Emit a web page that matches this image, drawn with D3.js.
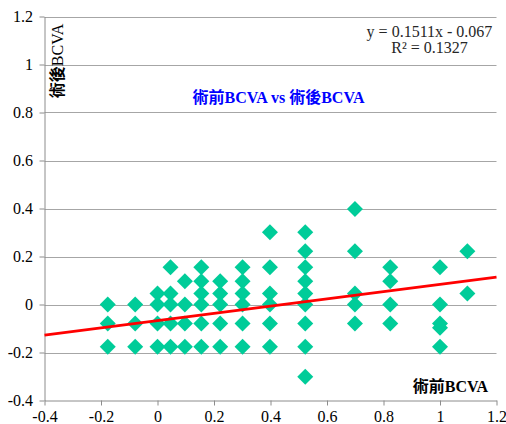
<!DOCTYPE html>
<html>
<head>
<meta charset="utf-8">
<script src="https://cdn.jsdelivr.net/npm/d3@7/dist/d3.min.js"></script>
<style>
  html, body { margin: 0; padding: 0; background: #fff; }
  svg { display: block; }
  text { font-family: "Liberation Serif", "Noto Sans CJK TC", serif; }
</style>
</head>
<body>
<svg id="chart" width="506" height="424"></svg>
<script>
// ---- data (logMAR values) ----
const preBCVA = [
  -0.176, -0.176, -0.176,
  -0.079, -0.079, -0.079,
  0, 0, 0, 0,
  0.046, 0.046, 0.046, 0.046, 0.046,
  0.097, 0.097, 0.097, 0.097,
  0.155, 0.155, 0.155, 0.155, 0.155, 0.155,
  0.222, 0.222, 0.222, 0.222, 0.222,
  0.301, 0.301, 0.301, 0.301, 0.301, 0.301,
  0.398, 0.398, 0.398, 0.398, 0.398, 0.398,
  0.523, 0.523, 0.523, 0.523, 0.523, 0.523, 0.523, 0.523, 0.523,
  0.699, 0.699, 0.699, 0.699, 0.699,
  0.824, 0.824, 0.824, 0.824,
  1.0, 1.0, 1.0, 1.0, 1.0,
  1.097, 1.097
];
const postBCVA = [
  0, -0.079, -0.176,
  0, -0.079, -0.176,
  0.046, 0, -0.079, -0.176,
  0.155, 0.046, 0, -0.079, -0.176,
  0.097, 0, -0.079, -0.176,
  0.155, 0.097, 0.046, 0, -0.079, -0.176,
  0.097, 0.046, 0, -0.079, -0.176,
  0.155, 0.097, 0.046, 0, -0.079, -0.176,
  0.301, 0.155, 0.046, 0, -0.079, -0.176,
  0.301, 0.222, 0.155, 0.097, 0.046, 0, -0.079, -0.176, -0.301,
  0.398, 0.222, 0.046, 0, -0.079,
  0.155, 0.097, 0, -0.079,
  0.155, 0, -0.079, -0.097, -0.176,
  0.222, 0.046
];
const xTicks = [-0.4, -0.2, 0, 0.2, 0.4, 0.6, 0.8, 1, 1.2];
const yTicks = [-0.4, -0.2, 0, 0.2, 0.4, 0.6, 0.8, 1, 1.2];
const trendSlope = 0.1511;
const trendIntercept = -0.067;
const equationText = "y = 0.1511x - 0.067";
const r2Text = "R² = 0.1327";
const chartTitle = "術前BCVA vs 術後BCVA";
const xTitle = "術前BCVA";
const yTitleCJK = "術後";
const yTitleLatin = "BCVA";

(function () {
// ---- layout ----
const svg = d3.select("#chart");
const pl = 44.5, pr = 496.5, pt = 16.5, pb = 400.5;
const x = d3.scaleLinear().domain([-0.4, 1.2]).range([pl, pr]);
const y = d3.scaleLinear().domain([-0.4, 1.2]).range([pb, pt]);
const fmt = d => (Math.abs(d) < 1e-9 ? "0" : String(+d.toFixed(1)));

// gridlines
svg.append("g").selectAll("line").data(yTicks.slice(1)).join("line")
  .attr("x1", pl).attr("x2", pr)
  .attr("y1", d => Math.round(y(d)) + 0.5).attr("y2", d => Math.round(y(d)) + 0.5)
  .attr("stroke", "#a6a6a6").attr("stroke-width", 1);

// x axis
const xAxis = svg.append("g").attr("transform", `translate(0,${pb})`)
  .call(d3.axisBottom(x).tickValues(xTicks).tickFormat(fmt).tickSize(5).tickSizeOuter(0));
xAxis.select(".domain").attr("stroke", "#8c8c8c");
xAxis.selectAll(".tick line").attr("stroke", "#8c8c8c");
xAxis.selectAll(".tick text").attr("font-size", 16).attr("fill", "#000")
  .attr("font-family", "Liberation Serif").attr("dy", null).attr("y", 21.5);

// y axis
const yAxis = svg.append("g").attr("transform", `translate(${pl},0)`)
  .call(d3.axisLeft(y).tickValues(yTicks).tickFormat(fmt).tickSize(5).tickSizeOuter(0));
yAxis.select(".domain").attr("stroke", "#8c8c8c");
yAxis.selectAll(".tick line").attr("stroke", "#8c8c8c");
yAxis.selectAll(".tick text").attr("font-size", 16).attr("fill", "#000")
  .attr("font-family", "Liberation Serif").attr("x", -11.5).attr("dy", "0.34em");

// points (diamonds)
const pts = preBCVA.map((v, i) => ({ px: v, py: postBCVA[i] }));
const diamond = d3.symbol().type(d3.symbolSquare).size(128)();
svg.append("g").selectAll("path").data(pts).join("path")
  .attr("d", diamond)
  .attr("transform", d => `translate(${x(d.px)},${y(d.py)}) rotate(45)`)
  .attr("fill", "#00cc99");

// trendline
const xd = x.domain();
svg.append("line")
  .attr("x1", x(xd[0])).attr("y1", y(trendSlope * xd[0] + trendIntercept))
  .attr("x2", x(xd[1])).attr("y2", y(trendSlope * xd[1] + trendIntercept))
  .attr("stroke", "#ff0000").attr("stroke-width", 2.75);

// equation
svg.append("text").attr("x", 429.5).attr("y", 37).attr("text-anchor", "middle")
  .attr("font-size", 16).attr("fill", "#262626").text(equationText);
svg.append("text").attr("x", 429.5).attr("y", 53).attr("text-anchor", "middle")
  .attr("font-size", 16).attr("fill", "#262626").text(r2Text);

// title
svg.append("text").attr("x", 278.5).attr("y", 103).attr("text-anchor", "middle")
  .attr("font-size", 16).attr("font-weight", "bold").attr("fill", "#0000ff").text(chartTitle);

// x title
svg.append("text").attr("x", 488).attr("y", 392).attr("text-anchor", "end")
  .attr("font-size", 16).attr("font-weight", "bold").attr("fill", "#000").text(xTitle);

// y title
const yt = svg.append("text").attr("transform", "translate(63,61) rotate(-90)")
  .attr("text-anchor", "middle").attr("font-size", 16).attr("fill", "#000");
yt.append("tspan").attr("font-weight", "bold").text(yTitleCJK);
yt.append("tspan").text(yTitleLatin);
})();
</script>
</body>
</html>
